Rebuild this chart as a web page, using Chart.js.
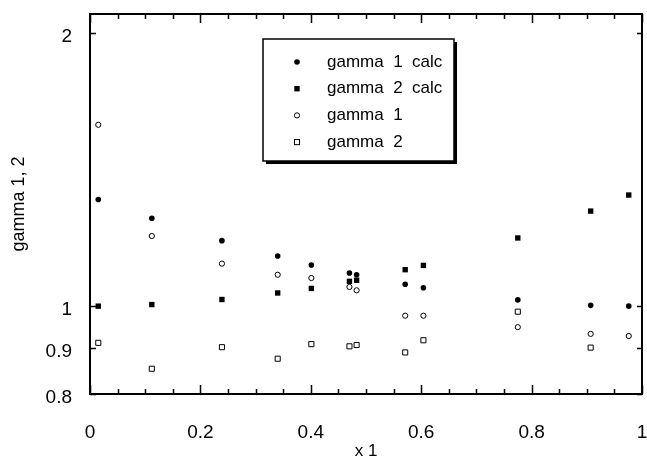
<!DOCTYPE html>
<html>
<head>
<meta charset="utf-8">
<script src="https://cdn.jsdelivr.net/npm/chart.js"></script>
<style>
  body { margin: 0; background: #fff; }
  #box { width: 647px; height: 457px; }
</style>
</head>
<body>
<div id="box"><canvas id="gammaChart" width="647" height="457"></canvas></div>
<script>
// mole fraction x1 for every measured point
var x1 = [0.015, 0.112, 0.239, 0.340, 0.401, 0.470, 0.483, 0.571, 0.604, 0.775, 0.907, 0.976];
// activity coefficients
var gamma1Calc = [1.311, 1.250, 1.181, 1.136, 1.110, 1.088, 1.083, 1.057, 1.048, 1.016, 1.002, 1.000];
var gamma2Calc = [1.000, 1.004, 1.017, 1.034, 1.046, 1.065, 1.068, 1.097, 1.109, 1.189, 1.273, 1.326];
var gamma1 = [1.585, 1.195, 1.114, 1.083, 1.074, 1.050, 1.041, 0.976, 0.976, 0.948, 0.932, 0.927];
var gamma2 = [0.911, 0.853, 0.901, 0.875, 0.908, 0.903, 0.906, 0.889, 0.917, 0.986, 0.900, null];

var xTicks = [0, 0.2, 0.4, 0.6, 0.8, 1];
var yTicks = [0.8, 0.9, 1, 2];
var seriesNames = ['gamma  1  calc', 'gamma  2  calc', 'gamma  1', 'gamma  2'];

// pair x with y, drop missing ones
function pts(ys) {
    var out = [];
    for (var i = 0; i < x1.length; i++) {
        if (ys[i] !== null) out.push({ x: x1[i], y: ys[i] });
    }
    return out;
}

// inward tick marks + frame
const framePlugin = {
    id: 'frameTicks',
    afterDraw: (chart) => {
        const { ctx, chartArea: a, scales } = chart;
        ctx.save();
        ctx.strokeStyle = '#000';
        ctx.lineWidth = 1.5;
        // x ticks every 0.05, longer at labelled ones
        for (var k = 0; k <= 20; k++) {
            var v = k * 0.05;
            var px = Math.round(scales.x.getPixelForValue(v)) + 0.5;
            var len = (k % 4 === 0) ? 9 : 5;
            ctx.beginPath();
            ctx.moveTo(px, a.bottom); ctx.lineTo(px, a.bottom - len);
            ctx.moveTo(px, a.top); ctx.lineTo(px, a.top + len);
            ctx.stroke();
        }
        yTicks.forEach(function (v) {
            var py = Math.round(scales.y.getPixelForValue(v)) + 0.5;
            ctx.beginPath();
            ctx.moveTo(a.left, py); ctx.lineTo(a.left + 6, py);
            ctx.moveTo(a.right, py); ctx.lineTo(a.right - 5, py);
            ctx.stroke();
        });
        ctx.lineWidth = 2;
        ctx.strokeRect(a.left, a.top, a.right - a.left, a.bottom - a.top);
        ctx.restore();
    }
};

// boxed legend with drop shadow
const legendPlugin = {
    id: 'boxLegend',
    afterDraw: (chart) => {
        const { ctx, chartArea: a } = chart;
        var left = a.left + 173, top = a.top + 25, w = 191, h = 122;
        ctx.save();
        ctx.fillStyle = '#000';
        ctx.fillRect(left + 3, top + 3, w, h);
        ctx.fillStyle = '#fff';
        ctx.fillRect(left, top, w, h);
        ctx.lineWidth = 1.5;
        ctx.strokeStyle = '#000';
        ctx.strokeRect(left, top, w, h);
        ctx.font = '17px "Liberation Sans", Arial, sans-serif';
        ctx.textBaseline = 'middle';
        chart.data.datasets.forEach(function (ds, i) {
            var y = top + 23 + i * 26.7;
            var mx = left + 34;
            ctx.fillStyle = '#000';
            ctx.strokeStyle = '#000';
            ctx.lineWidth = 1;
            if (ds.pointStyle === 'circle') {
                ctx.beginPath();
                ctx.arc(mx, y, ds.pointRadius, 0, Math.PI * 2);
                if (ds.backgroundColor === '#000') ctx.fill(); else { ctx.fillStyle = '#fff'; ctx.fill(); ctx.stroke(); }
            } else {
                var s = ds.pointRadius * Math.SQRT1_2;
                if (ds.backgroundColor === '#000') ctx.fillRect(mx - s, y - s, 2 * s, 2 * s);
                else ctx.strokeRect(mx - s, y - s, 2 * s, 2 * s);
            }
            ctx.fillStyle = '#000';
            ctx.fillText(ds.label, left + 64, y);
        });
        ctx.restore();
    }
};

var tickFont = { family: '"Liberation Sans", Arial, sans-serif', size: 19 };

const config = {
    type: 'scatter',
    data: {
        datasets: [
            { label: seriesNames[0], data: pts(gamma1Calc), pointStyle: 'circle', pointRadius: 2.8, backgroundColor: '#000', borderColor: '#000', borderWidth: 0 },
            { label: seriesNames[1], data: pts(gamma2Calc), pointStyle: 'rect', pointRadius: 3.8, backgroundColor: '#000', borderColor: '#000', borderWidth: 0 },
            { label: seriesNames[2], data: pts(gamma1), pointStyle: 'circle', pointRadius: 2.6, backgroundColor: '#fff', borderColor: '#000', borderWidth: 1 },
            { label: seriesNames[3], data: pts(gamma2), pointStyle: 'rect', pointRadius: 3.6, backgroundColor: '#fff', borderColor: '#000', borderWidth: 1 },
        ],
    },
    options: {
        responsive: false,
        animation: false,
        layout: { padding: { top: 14, right: 1, left: 0, bottom: 0 } },
        plugins: {
            legend: { display: false },
            tooltip: { enabled: false },
        },
        scales: {
            x: {
                type: 'linear',
                min: 0,
                max: 1,
                grid: { display: false, drawTicks: false },
                border: { display: false },
                afterBuildTicks: (s) => { s.ticks = xTicks.map(v => ({ value: v })); },
                afterFit: (s) => { s.height = 63; s.paddingLeft = 0; s.paddingRight = 0; },
                ticks: { color: '#000', font: tickFont, padding: 27, maxRotation: 0, callback: (v) => String(v) },
                title: {
                    display: true,
                    text: 'x 1',
                    color: '#000',
                    font: { family: '"Liberation Sans", Arial, sans-serif', size: 17 },
                    padding: { top: 0, bottom: -5 },
                },
            },
            y: {
                type: 'logarithmic',
                min: 0.8,
                max: 2.1,
                grid: { display: false, drawTicks: false },
                border: { display: false },
                afterBuildTicks: (s) => { s.ticks = yTicks.map(v => ({ value: v })); },
                afterFit: (s) => { s.width = 90; s.paddingTop = 0; s.paddingBottom = 0; },
                ticks: { color: '#000', font: tickFont, padding: 18, labelOffset: 4, callback: (v) => String(v) },
                title: {
                    display: true,
                    text: 'gamma 1, 2',
                    color: '#000',
                    font: { family: '"Liberation Sans", Arial, sans-serif', size: 18 },
                    padding: { top: 8, bottom: 0 },
                },
            },
        },
    },
    plugins: [framePlugin, legendPlugin],
};

let gammaChart = new Chart(document.getElementById('gammaChart'), config);
</script>
</body>
</html>
